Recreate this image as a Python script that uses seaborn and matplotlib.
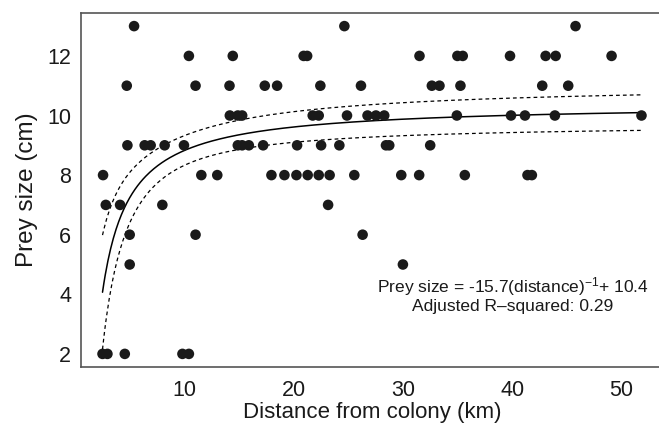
import matplotlib
matplotlib.use("Agg")
import matplotlib.pyplot as plt
import seaborn as sns
import pandas as pd
import numpy as np

sns.set_theme(style="white")
plt.rcParams['font.family'] = ['Liberation Sans', 'DejaVu Sans']
plt.rcParams['mathtext.fontset'] = 'custom'
plt.rcParams['mathtext.rm'] = 'Liberation Sans'
plt.rcParams['mathtext.it'] = 'Liberation Sans'

# distance (km) for each prey size class
d13 = [5.37, 24.63, 45.80]
d12 = [10.39, 14.41, 20.9, 21.22, 31.51, 34.98, 35.47, 39.8, 43.06, 43.98, 49.1]
d11 = [4.70, 11.0, 14.11, 17.34, 18.47, 22.43, 26.15, 32.64, 33.34, 35.26, 42.75, 45.13]
d10 = [14.14, 14.87, 15.27, 21.73, 22.28, 24.87, 26.75, 27.52, 28.28, 34.93,
       39.89, 41.17, 43.91, 51.84]
d9 = [4.76, 6.34, 6.89, 8.17, 9.94, 14.87, 15.27, 15.88, 17.19, 20.3, 22.5,
      24.17, 28.44, 28.74, 32.49]
d8 = [2.53, 11.53, 12.99, 17.95, 19.14, 20.24, 21.27, 22.28, 23.28, 25.54,
      29.84, 31.48, 35.66, 41.4, 41.8]
d7 = [2.78, 4.09, 7.96, 23.14]
d6 = [4.97, 11.0, 26.3]
d5 = [4.97, 29.99]
d2 = [2.48, 2.93, 4.52, 9.8, 10.39]

groups = {13: d13, 12: d12, 11: d11, 10: d10, 9: d9, 8: d8, 7: d7, 6: d6, 5: d5, 2: d2}
rows = [{'distance': d, 'prey': size} for size, ds in groups.items() for d in ds]
df = pd.DataFrame(rows)

# fitted model given in the figure: prey = a + b / distance
a_coef, b_coef = 10.4, -15.7

# 95% confidence band from the data around the fitted model
z = 1.0 / df['distance'].values
resid = df['prey'].values - (a_coef + b_coef * z)
n = len(df)
s = np.sqrt(np.sum(resid ** 2) / (n - 2))
zbar = z.mean()
sxx = np.sum((z - zbar) ** 2)

xs = np.linspace(df['distance'].min(), df['distance'].max(), 400)
zs = 1.0 / xs
fit = a_coef + b_coef * zs
se = s * np.sqrt(1.0 / n + (zs - zbar) ** 2 / sxx)
upper = fit + 1.99 * se
lower = fit - 1.99 * se

fig = plt.figure(figsize=(6.59, 4.25), dpi=100)
ax = fig.add_axes([81 / 659, 1 - 367 / 425, (663 - 81) / 659, (367 - 13) / 425])

sns.scatterplot(data=df, x='distance', y='prey', ax=ax, color='#1a1a1a',
                s=58, edgecolor='none', linewidth=0, zorder=3)
ax.plot(xs, fit, color='black', lw=1.1)
ax.plot(xs, upper, color='black', lw=0.9, dashes=(3, 2.5))
ax.plot(xs, lower, color='black', lw=0.9, dashes=(3, 2.5))

ax.set_xlim(0.51, 53.81)
ax.set_ylim(1.56, 13.44)
ax.set_xticks([10, 20, 30, 40, 50])
ax.set_yticks([2, 4, 6, 8, 10, 12])
ax.tick_params(axis='both', length=0, labelsize=15.5, colors='#1a1a1a')
ax.tick_params(axis='x', pad=9)
ax.tick_params(axis='y', pad=7)
for sp in ax.spines.values():
    sp.set_color('#555555')
    sp.set_linewidth(1.2)

ax.set_xlabel('Distance from colony (km)', fontsize=16, color='#1a1a1a', labelpad=1)
ax.set_ylabel('Prey size (cm)', fontsize=17.5, color='#1a1a1a', labelpad=7)

ax.text(40.07, 4.25, 'Prey size = -15.7(distance)$^{\\mathregular{-1}}$+ 10.4',
        ha='center', va='center', fontsize=12.5, color='#1a1a1a')
ax.text(40.07, 3.58, 'Adjusted R\u2013squared: 0.29',
        ha='center', va='center', fontsize=12.5, color='#1a1a1a')

fig.savefig('out.png', dpi=100)
